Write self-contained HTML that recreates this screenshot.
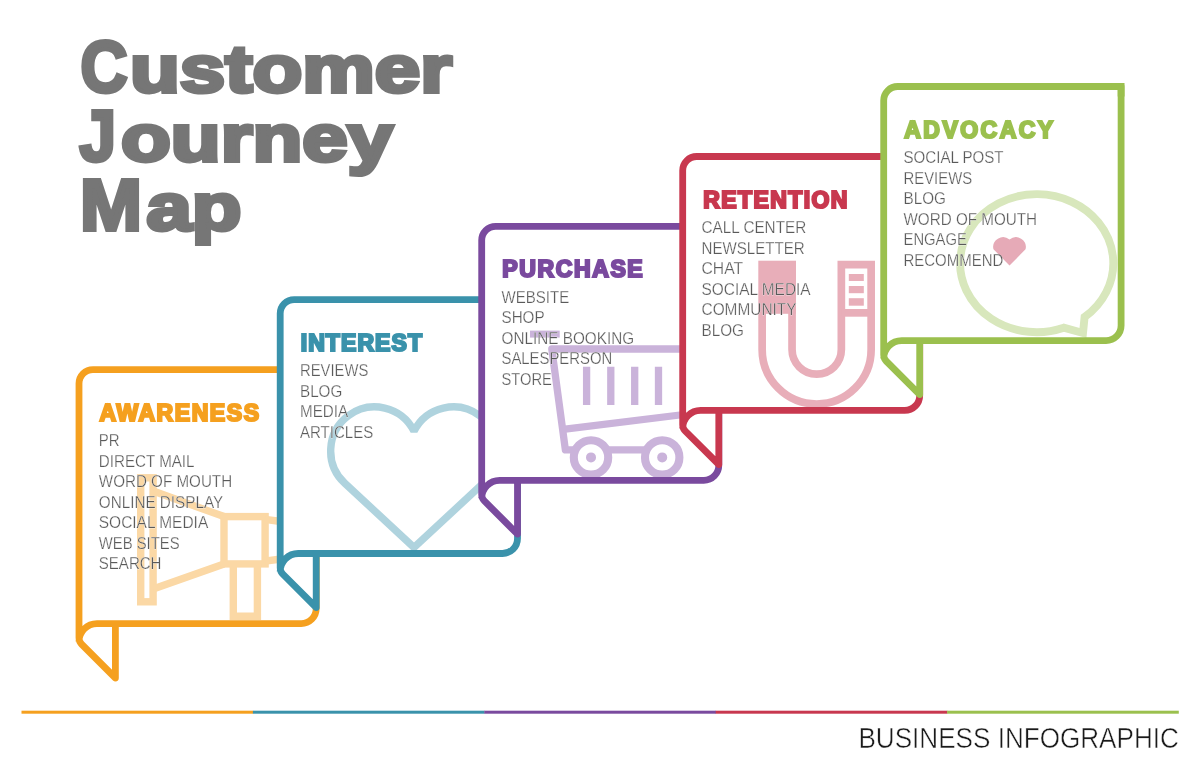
<!DOCTYPE html>
<html><head><meta charset="utf-8"><style>
html,body{margin:0;padding:0;background:#fff;width:1200px;height:771px;overflow:hidden}
svg{display:block;will-change:transform}
text{font-family:"Liberation Sans",sans-serif}
.t{font-weight:bold;font-size:72px;fill:#767676;stroke:#767676;stroke-width:4;stroke-linejoin:miter}
.tl{font-weight:bold;font-size:66px;fill:#767676;stroke:#767676;stroke-width:4;stroke-linejoin:miter}
.h{font-weight:bold;font-size:23px;stroke-width:2.2;stroke-linejoin:miter}
.li{font-size:15.6px;fill:#5A5A5A;stroke:#fff;stroke-width:0.25}
.bi{font-size:28.8px;fill:#1A1A1A;stroke:#fff;stroke-width:0.5}
</style></head><body>
<svg width="1200" height="771" viewBox="0 0 1200 771">
<text x="80.5" y="92.2" class="t" textLength="47" lengthAdjust="spacingAndGlyphs">C</text>
<text x="130" y="92.2" class="tl" textLength="322" lengthAdjust="spacingAndGlyphs">ustomer</text>
<text x="79.5" y="160.7" class="t" textLength="36.5" lengthAdjust="spacingAndGlyphs">J</text>
<text x="121" y="160.7" class="tl" textLength="272" lengthAdjust="spacingAndGlyphs">ourney</text>
<text x="80" y="230.1" class="t" textLength="62" lengthAdjust="spacingAndGlyphs">M</text>
<text x="146.5" y="230.1" class="tl" textLength="95" lengthAdjust="spacingAndGlyphs">ap</text>
<path d="M79.0 641.6 L79.0 383.6 A14 14 0 0 1 93.0 369.6 L316.2 369.6 L316.2 608.6 A15 15 0 0 1 301.2 623.6 L97.0 623.6 A18 18 0 0 0 79.0 641.6 Z" fill="#fff" stroke="none"/>
<path d="M79.0 641.6 L115.4 678.0 L115.4 623.6 Z" fill="#fff" stroke="none"/>
<g fill="none" stroke="#FBD8A5" stroke-width="7.4">
<rect x="140.7" y="477.8" width="12.4" height="124"/>
<path d="M153.1 491 L224 516.6 M153.1 589 L224 563.9"/>
<rect x="224" y="516.6" width="41.1" height="47.3"/>
<path d="M233.3 563.9 V616.2 H257.4 V563.9"/>
<path d="M265 519.3 L281 521.5 M265 561.2 L281 559"/>
</g>
<path d="M115.4 623.6 L115.4 678.0 L81.64 644.24 A9 9 0 0 1 79.0 637.87 L79.0 383.6 A14 14 0 0 1 93.0 369.6 L316.2 369.6 L316.2 608.6 A15 15 0 0 1 301.2 623.6 L97.0 623.6 A18 18 0 0 0 79.0 641.6" fill="none" stroke="#F5A01F" stroke-width="6.8" stroke-linejoin="round" stroke-linecap="butt"/>
<path d="M306.2 369.6 L316.2 369.6 L316.2 379.6" fill="none" stroke="#F5A01F" stroke-width="6.8" stroke-linejoin="miter"/>
<g transform="translate(99.5 420.7) scale(1.0 1)"><text x="0" y="0" class="h" fill="#F5A01F" stroke="#F5A01F" textLength="159.5" lengthAdjust="spacing">AWARENESS</text></g>
<text x="98.8" y="446.1" class="li" textLength="20.8" lengthAdjust="spacingAndGlyphs">PR</text>
<text x="98.8" y="466.6" class="li" textLength="95.7" lengthAdjust="spacingAndGlyphs">DIRECT MAIL</text>
<text x="98.8" y="487.1" class="li" textLength="133.3" lengthAdjust="spacingAndGlyphs">WORD OF MOUTH</text>
<text x="98.8" y="507.6" class="li" textLength="124.3" lengthAdjust="spacingAndGlyphs">ONLINE DISPLAY</text>
<text x="98.8" y="528.1" class="li" textLength="109.4" lengthAdjust="spacingAndGlyphs">SOCIAL MEDIA</text>
<text x="98.8" y="548.6" class="li" textLength="80.8" lengthAdjust="spacingAndGlyphs">WEB SITES</text>
<text x="98.8" y="569.1" class="li" textLength="62.7" lengthAdjust="spacingAndGlyphs">SEARCH</text>
<path d="M280.2 571.5 L280.2 313.6 A14 14 0 0 1 294.2 299.6 L517.5 299.6 L517.5 538.5 A15 15 0 0 1 502.5 553.5 L298.2 553.5 A18 18 0 0 0 280.2 571.5 Z" fill="#fff" stroke="none"/>
<path d="M280.2 571.5 L316.2 607.5 L316.2 553.5 Z" fill="#fff" stroke="none"/>
<path d="M414 547.5 L344.8 483.25 A44 44 0 1 1 414 431.2 A44 44 0 1 1 483.2 483.25 Z" fill="none" stroke="#AFD3DE" stroke-width="7.4" stroke-linejoin="miter" stroke-miterlimit="1.6"/>
<path d="M316.2 553.5 L316.2 607.5 L282.84 574.14 A9 9 0 0 1 280.2 567.77 L280.2 313.6 A14 14 0 0 1 294.2 299.6 L517.5 299.6 L517.5 538.5 A15 15 0 0 1 502.5 553.5 L298.2 553.5 A18 18 0 0 0 280.2 571.5" fill="none" stroke="#3A92AB" stroke-width="6.8" stroke-linejoin="round" stroke-linecap="butt"/>
<path d="M507.5 299.6 L517.5 299.6 L517.5 309.6" fill="none" stroke="#3A92AB" stroke-width="6.8" stroke-linejoin="miter"/>
<g transform="translate(300.7 350.7) scale(1.0 1)"><text x="0" y="0" class="h" fill="#3A92AB" stroke="#3A92AB" textLength="121.3" lengthAdjust="spacing">INTEREST</text></g>
<text x="300.0" y="376.1" class="li" textLength="68.3" lengthAdjust="spacingAndGlyphs">REVIEWS</text>
<text x="300.0" y="396.6" class="li" textLength="42.3" lengthAdjust="spacingAndGlyphs">BLOG</text>
<text x="300.0" y="417.1" class="li" textLength="48.1" lengthAdjust="spacingAndGlyphs">MEDIA</text>
<text x="300.0" y="437.6" class="li" textLength="73.2" lengthAdjust="spacingAndGlyphs">ARTICLES</text>
<path d="M481.7 498.3 L481.7 240.3 A14 14 0 0 1 495.7 226.3 L718.8 226.3 L718.8 465.3 A15 15 0 0 1 703.8 480.3 L499.7 480.3 A18 18 0 0 0 481.7 498.3 Z" fill="#fff" stroke="none"/>
<path d="M481.7 498.3 L517.5 534.1 L517.5 480.3 Z" fill="#fff" stroke="none"/>
<g fill="none" stroke="#CAB3DA" stroke-width="7.3" stroke-linejoin="round">
<rect x="530" y="330.6" width="29.7" height="7" fill="#CAB3DA" stroke="none"/>
<path d="M684 349 L551.8 349 L565.4 449.9 L662 449.9"/>
<path d="M565.2 429.2 L684 414.5"/>
<path d="M586.6 366.7 V404.9 M610.8 366.7 V404.9 M634.7 366.7 V404.9 M658.5 366.7 V404.9" stroke-linecap="butt"/>
<circle cx="591" cy="457.4" r="17.2" fill="#fff" stroke-width="8.1"/>
<circle cx="662.2" cy="457.4" r="17.2" fill="#fff" stroke-width="8.1"/>
<circle cx="591" cy="457.4" r="5" fill="#CAB3DA" stroke="none"/>
<circle cx="662.2" cy="457.4" r="5" fill="#CAB3DA" stroke="none"/>
</g>
<path d="M517.5 480.3 L517.5 534.1 L484.34 500.94 A9 9 0 0 1 481.7 494.57 L481.7 240.3 A14 14 0 0 1 495.7 226.3 L718.8 226.3 L718.8 465.3 A15 15 0 0 1 703.8 480.3 L499.7 480.3 A18 18 0 0 0 481.7 498.3" fill="none" stroke="#7A4A9E" stroke-width="6.8" stroke-linejoin="round" stroke-linecap="butt"/>
<path d="M708.8 226.3 L718.8 226.3 L718.8 236.3" fill="none" stroke="#7A4A9E" stroke-width="6.8" stroke-linejoin="miter"/>
<g transform="translate(502.2 277.4) scale(1.0 1)"><text x="0" y="0" class="h" fill="#7A4A9E" stroke="#7A4A9E" textLength="140.5" lengthAdjust="spacing">PURCHASE</text></g>
<text x="501.5" y="302.8" class="li" textLength="67.7" lengthAdjust="spacingAndGlyphs">WEBSITE</text>
<text x="501.5" y="323.3" class="li" textLength="43.1" lengthAdjust="spacingAndGlyphs">SHOP</text>
<text x="501.5" y="343.8" class="li" textLength="132.6" lengthAdjust="spacingAndGlyphs">ONLINE BOOKING</text>
<text x="501.5" y="364.3" class="li" textLength="110.7" lengthAdjust="spacingAndGlyphs">SALESPERSON</text>
<text x="501.5" y="384.8" class="li" textLength="50.3" lengthAdjust="spacingAndGlyphs">STORE</text>
<path d="M682.7 428.4 L682.7 170.5 A14 14 0 0 1 696.7 156.5 L919.7 156.5 L919.7 395.4 A15 15 0 0 1 904.7 410.4 L700.7 410.4 A18 18 0 0 0 682.7 428.4 Z" fill="#fff" stroke="none"/>
<path d="M682.7 428.4 L718.8 464.4999999999999 L718.8 410.4 Z" fill="#fff" stroke="none"/>
<g fill="none" stroke="#E8AEB9" stroke-width="7.7">
<rect x="758.3" y="260.7" width="37.7" height="53.1" fill="#E8AEB9" stroke="none"/>
<path d="M762.15 313 L762.15 349.5 A54.5 54.5 0 0 0 871.15 349.5 L871.15 264.55 L841.35 264.55 L841.35 349.5 A24.6 24.6 0 0 1 792.05 349.5 L792.05 313"/>
<path d="M841.35 312.85 H871.15"/>
<rect x="848.8" y="274" width="15" height="7" fill="#E8AEB9" stroke="none"/>
<rect x="848.8" y="286" width="15" height="7.2" fill="#E8AEB9" stroke="none"/>
<rect x="848.8" y="298.2" width="15" height="7.5" fill="#E8AEB9" stroke="none"/>
</g>
<path d="M718.8 410.4 L718.8 464.4999999999999 L685.34 431.04 A9 9 0 0 1 682.7 424.67 L682.7 170.5 A14 14 0 0 1 696.7 156.5 L919.7 156.5 L919.7 395.4 A15 15 0 0 1 904.7 410.4 L700.7 410.4 A18 18 0 0 0 682.7 428.4" fill="none" stroke="#C8384F" stroke-width="6.8" stroke-linejoin="round" stroke-linecap="butt"/>
<path d="M909.7 156.5 L919.7 156.5 L919.7 166.5" fill="none" stroke="#C8384F" stroke-width="6.8" stroke-linejoin="miter"/>
<g transform="translate(703.2 207.6) scale(1.0 1)"><text x="0" y="0" class="h" fill="#C8384F" stroke="#C8384F" textLength="144.2" lengthAdjust="spacing">RETENTION</text></g>
<text x="701.5" y="233.0" class="li" textLength="104.7" lengthAdjust="spacingAndGlyphs">CALL CENTER</text>
<text x="701.5" y="253.5" class="li" textLength="103.3" lengthAdjust="spacingAndGlyphs">NEWSLETTER</text>
<text x="701.5" y="274.0" class="li" textLength="41.6" lengthAdjust="spacingAndGlyphs">CHAT</text>
<text x="701.5" y="294.5" class="li" textLength="109.1" lengthAdjust="spacingAndGlyphs">SOCIAL MEDIA</text>
<text x="701.5" y="315.0" class="li" textLength="95.0" lengthAdjust="spacingAndGlyphs">COMMUNITY</text>
<text x="701.5" y="335.5" class="li" textLength="42.5" lengthAdjust="spacingAndGlyphs">BLOG</text>
<path d="M883.7 358.6 L883.7 100.5 A14 14 0 0 1 897.7 86.5 L1121.1 86.5 L1121.1 325.6 A15 15 0 0 1 1106.1 340.6 L901.7 340.6 A18 18 0 0 0 883.7 358.6 Z" fill="#fff" stroke="none"/>
<path d="M883.7 358.6 L919.7 394.6 L919.7 340.6 Z" fill="#fff" stroke="none"/>
<path d="M1084.6 317 A76.6 69 0 1 0 1063.8 327.7 L1083 333 Z" fill="none" stroke="#D8E7BC" stroke-width="7.9" stroke-linejoin="miter"/>
<path transform="translate(1009.5 250.95) scale(1.145) translate(-1009.5 -251.9)" d="M1009.5 264.5 L995.5 250.5 A8.6 8.6 0 0 1 1009.5 242 A8.6 8.6 0 0 1 1023.5 250.5 Z" fill="#E6AAB7"/>
<path d="M919.7 340.6 L919.7 394.6 L886.34 361.24 A9 9 0 0 1 883.7 354.87 L883.7 100.5 A14 14 0 0 1 897.7 86.5 L1121.1 86.5 L1121.1 325.6 A15 15 0 0 1 1106.1 340.6 L901.7 340.6 A18 18 0 0 0 883.7 358.6" fill="none" stroke="#9BC04E" stroke-width="6.8" stroke-linejoin="round" stroke-linecap="butt"/>
<path d="M1111.1 86.5 L1121.1 86.5 L1121.1 96.5" fill="none" stroke="#9BC04E" stroke-width="6.8" stroke-linejoin="miter"/>
<g transform="translate(904.2 137.6) scale(1.0 1)"><text x="0" y="0" class="h" fill="#9BC04E" stroke="#9BC04E" textLength="149.0" lengthAdjust="spacing">ADVOCACY</text></g>
<text x="903.5" y="163.0" class="li" textLength="100.1" lengthAdjust="spacingAndGlyphs">SOCIAL POST</text>
<text x="903.5" y="183.5" class="li" textLength="68.6" lengthAdjust="spacingAndGlyphs">REVIEWS</text>
<text x="903.5" y="204.0" class="li" textLength="42.4" lengthAdjust="spacingAndGlyphs">BLOG</text>
<text x="903.5" y="224.5" class="li" textLength="133.6" lengthAdjust="spacingAndGlyphs">WORD OF MOUTH</text>
<text x="903.5" y="245.0" class="li" textLength="63.4" lengthAdjust="spacingAndGlyphs">ENGAGE</text>
<text x="903.5" y="265.5" class="li" textLength="99.8" lengthAdjust="spacingAndGlyphs">RECOMMEND</text>
<rect x="21.5" y="710.7" width="231.7" height="3" fill="#F5A01F"/>
<rect x="252.9" y="710.7" width="231.7" height="3" fill="#3A92AB"/>
<rect x="484.3" y="710.7" width="231.7" height="3" fill="#7A4A9E"/>
<rect x="715.7" y="710.7" width="231.7" height="3" fill="#C8384F"/>
<rect x="947.1" y="710.7" width="231.7" height="3" fill="#9BC04E"/>
<text x="858.4" y="747.8" class="bi" textLength="320.5" lengthAdjust="spacingAndGlyphs">BUSINESS INFOGRAPHIC</text>
</svg>
</body></html>
